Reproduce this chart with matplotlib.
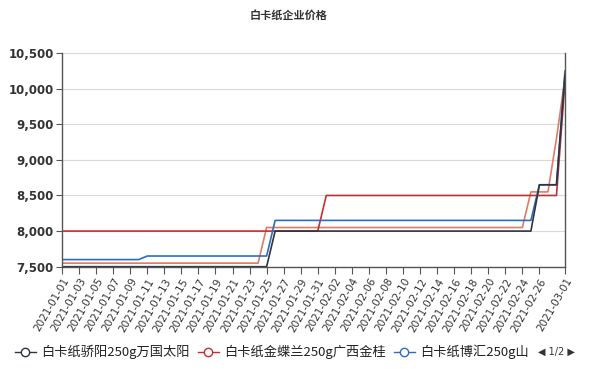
import matplotlib
matplotlib.use('Agg')
import matplotlib.pyplot as plt
from matplotlib.lines import Line2D
import datetime as dt

plt.rcParams['font.family'] = ['Noto Sans CJK SC', 'DejaVu Sans']

# series data: points where the price changes
jy_dates = ['2021-01-01', '2021-01-25', '2021-01-26', '2021-02-25', '2021-02-26', '2021-02-28', '2021-03-01']
jy_vals = [7500, 7500, 8000, 8000, 8650, 8650, 10200]

jdl_dates = ['2021-01-01', '2021-01-31', '2021-02-01', '2021-02-28', '2021-03-01']
jdl_vals = [8000, 8000, 8500, 8500, 10100]

bh_dates = ['2021-01-01', '2021-01-10', '2021-01-11', '2021-01-25', '2021-01-26',
            '2021-02-25', '2021-02-26', '2021-02-28', '2021-03-01']
bh_vals = [7600, 7600, 7650, 7650, 8150, 8150, 8650, 8650, 10250]

# fourth series (legend page 2)
s4_dates = ['2021-01-01', '2021-01-24', '2021-01-25', '2021-02-24', '2021-02-25',
            '2021-02-27', '2021-02-28', '2021-03-01']
s4_vals = [7550, 7550, 8050, 8050, 8550, 8550, 9300, 10150]

names = ['白卡纸骄阳250g万国太阳', '白卡纸金蝶兰250g广西金桂', '白卡纸博汇250g山']
colors = ['#2e3440', '#c0312f', '#2f6cc0', '#e07b66']

yticks = [7500, 8000, 8500, 9000, 9500, 10000, 10500]


def to_dates(lst):
    return [dt.datetime.strptime(s, '%Y-%m-%d') for s in lst]


xtick_dates = [dt.datetime(2021, 1, 1) + dt.timedelta(days=2 * i) for i in range(29)]
xtick_dates.append(dt.datetime(2021, 3, 1))

fig = plt.figure(figsize=(5.94, 3.69), dpi=100)
ax = fig.add_axes([62 / 594, 1 - 266.7 / 369, (565 - 62) / 594, (266.7 - 53) / 369])

ax.plot(to_dates(s4_dates), s4_vals, color=colors[3], lw=1.2)
ax.plot(to_dates(jdl_dates), jdl_vals, color=colors[1], lw=1.2)
ax.plot(to_dates(bh_dates), bh_vals, color=colors[2], lw=1.2)
ax.plot(to_dates(jy_dates), jy_vals, color=colors[0], lw=1.2)

ax.set_xlim(dt.datetime(2021, 1, 1), dt.datetime(2021, 3, 1))
ax.set_ylim(7500, 10500)
ax.set_yticks(yticks)
ax.set_yticklabels([f'{v:,}' for v in yticks], fontsize=8.5, fontweight='bold',
                   color='#333333', family='DejaVu Sans')
ax.yaxis.grid(True, color='#d9d9d9', lw=0.8)
ax.set_axisbelow(True)

ax.set_xticks(xtick_dates)
ax.set_xticklabels([d.strftime('%Y-%m-%d') for d in xtick_dates], rotation=60,
                   ha='right', rotation_mode='anchor', fontsize=7.5,
                   color='#333333', family='DejaVu Sans')
ax.tick_params(axis='x', length=5, color='#555555', pad=2)
ax.tick_params(axis='y', length=4, color='#555555', pad=2)

ax.spines['top'].set_visible(False)
for s in ['left', 'bottom', 'right']:
    ax.spines[s].set_color('#555555')
    ax.spines[s].set_linewidth(1.0)

fig.text(0.485, 1 - 15 / 369, '白卡纸企业价格', ha='center', va='center',
         fontsize=8, fontweight='bold', color='#333333')

handles = [Line2D([], [], color=c, lw=1, marker='o', markersize=6,
                  markerfacecolor='white', markeredgecolor=c) for c in colors[:3]]
fig.legend(handles, names, loc='center left', bbox_to_anchor=(0.025, 1 - 352 / 369),
           ncol=3, frameon=False, fontsize=9.5, handlelength=1.6,
           handletextpad=0.4, columnspacing=0.6, labelcolor='#222222',
           borderaxespad=0, borderpad=0)
fig.text(0.905, 1 - 352 / 369, '◀ 1/2 ▶', ha='left', va='center', fontsize=7,
         color='#333333', family='DejaVu Sans')

fig.savefig('out.png', dpi=100)
